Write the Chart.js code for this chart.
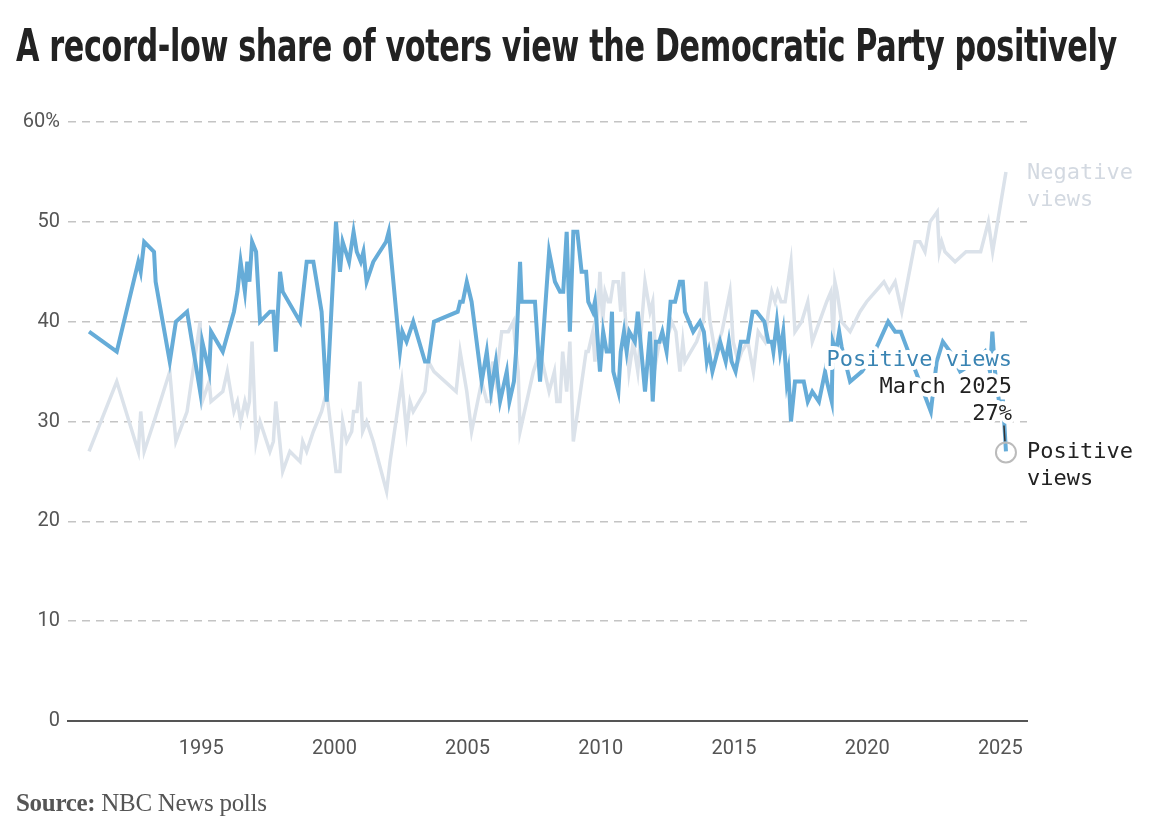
<!DOCTYPE html>
<html>
<head>
<meta charset="utf-8">
<script src="https://cdn.jsdelivr.net/npm/chart.js@4.4.1/dist/chart.umd.min.js"></script>
<style>
  html, body { margin: 0; padding: 0; background: #fff; }
  #wrap { position: relative; width: 1159px; height: 827px; overflow: hidden; }
  #title {
    position: absolute; left: 16px; top: 20px; white-space: nowrap;
    font-family: "DejaVu Sans Condensed", "Liberation Sans Narrow", sans-serif;
    font-weight: 700; font-size: 45px; line-height: 52px; color: #222;
    transform-origin: left top; letter-spacing: -0.5px;
  }
  #source {
    position: absolute; left: 16px; top: 789px; white-space: nowrap;
    font-family: "Liberation Serif", "DejaVu Serif", serif;
    font-size: 25px; color: #555; letter-spacing: -0.3px;
  }
  #source b { font-weight: 700; }
  canvas { position: absolute; left: 0; top: 0; }
</style>
</head>
<body>
<div id="wrap">
  <canvas id="myChart" width="1159" height="827"></canvas>
  <div id="title">A record-low share of voters view the Democratic Party positively</div>
  <div id="source"><b>Source:</b> NBC News polls</div>
</div>
<script>
// positive views (decimal year / percent)
var posDates = [1990.79, 1991.83, 1992.64, 1992.73, 1992.86, 1993.23, 1993.29, 1993.82, 1994.05, 1994.47,
  1994.96, 1995.04, 1995.30, 1995.37, 1995.81, 1996.02, 1996.23, 1996.36, 1996.48, 1996.64,
  1996.73, 1996.81, 1996.91, 1997.06, 1997.21, 1997.58, 1997.71, 1997.80, 1997.96, 1998.06,
  1998.71, 1998.96, 1999.21, 1999.52, 1999.71, 2000.06, 2000.21, 2000.31, 2000.55, 2000.72,
  2000.84, 2000.99, 2001.09, 2001.21, 2001.46, 2001.94, 2002.04, 2002.46, 2002.55, 2002.71,
  2002.96, 2003.40, 2003.53, 2003.74, 2004.63, 2004.72, 2004.82, 2004.97, 2005.15, 2005.53,
  2005.72, 2005.88, 2006.06, 2006.22, 2006.47, 2006.57, 2006.74, 2006.82, 2006.97, 2007.03,
  2007.53, 2007.72, 2008.06, 2008.28, 2008.47, 2008.59, 2008.72, 2008.84, 2008.97, 2009.12,
  2009.28, 2009.45, 2009.53, 2009.70, 2009.78, 2009.97, 2010.09, 2010.22, 2010.35, 2010.42,
  2010.47, 2010.66, 2010.75, 2010.87, 2010.97, 2011.07, 2011.28, 2011.39, 2011.66, 2011.85,
  2011.95, 2012.07, 2012.20, 2012.31, 2012.47, 2012.62, 2012.79, 2012.97, 2013.08, 2013.16,
  2013.47, 2013.72, 2013.87, 2013.98, 2014.06, 2014.19, 2014.48, 2014.69, 2014.81, 2014.91,
  2015.06, 2015.26, 2015.52, 2015.70, 2015.85, 2016.14, 2016.29, 2016.42, 2016.48, 2016.61,
  2016.73, 2016.85, 2016.98, 2017.04, 2017.14, 2017.29, 2017.62, 2017.77, 2017.94, 2018.19,
  2018.42, 2018.49, 2018.67, 2018.71, 2018.83, 2018.95, 2019.04, 2019.36, 2019.80, 2020.20,
  2020.79, 2021.05, 2021.26, 2022.39, 2022.61, 2022.84, 2023.11, 2023.49, 2024.05, 2024.42,
  2024.61, 2024.70, 2024.80, 2024.95, 2025.10, 2025.21];
var posValues = [39, 37, 46, 45, 48, 47, 44, 36, 40, 41,
  33, 38, 35, 39, 37, 39, 41, 43, 46, 43,
  46, 44, 48, 47, 40, 41, 41, 37, 45, 43,
  40, 46, 46, 41, 32, 50, 45, 48, 46, 49,
  47, 46, 47, 44, 46, 48, 49, 37, 39, 38,
  40, 36, 36, 40, 41, 42, 42, 44, 42, 34,
  37, 33, 36, 32, 35, 32, 34, 37, 46, 42,
  42, 34, 47, 44, 43, 43, 49, 39, 49, 49,
  45, 45, 42, 41, 42, 35, 39, 37, 37, 41,
  35, 33, 37, 39, 37, 39, 38, 41, 33, 39,
  32, 38, 38, 39, 37, 42, 42, 44, 44, 41,
  39, 40, 39, 36, 37, 35, 38, 36, 38, 36,
  35, 38, 38, 41, 41, 40, 38, 38, 37, 40,
  37, 39, 34, 35, 30, 34, 34, 32, 33, 32,
  35, 34, 32, 38, 37, 39, 37.5, 34, 35, 36.5,
  40, 39, 39, 31, 36, 38, 37, 35, 36, 37,
  35, 39, 35, 32, 32, 27];

// negative views
var negDates = [1990.79, 1991.83, 1992.64, 1992.73, 1992.86, 1993.23, 1993.82, 1994.05, 1994.47, 1994.96,
  1995.04, 1995.30, 1995.37, 1995.81, 1995.98, 1996.23, 1996.36, 1996.48, 1996.64, 1996.73,
  1996.81, 1996.91, 1997.06, 1997.21, 1997.58, 1997.71, 1997.80, 1998.06, 1998.33, 1998.71,
  1998.81, 1998.96, 1999.21, 1999.52, 1999.71, 2000.06, 2000.21, 2000.31, 2000.46, 2000.65,
  2000.72, 2000.85, 2000.96, 2001.06, 2001.21, 2001.46, 2001.96, 2002.09, 2002.53, 2002.71,
  2002.84, 2002.96, 2003.40, 2003.53, 2003.74, 2004.57, 2004.72, 2004.97, 2005.15, 2005.53,
  2005.72, 2005.88, 2005.94, 2006.06, 2006.28, 2006.53, 2006.72, 2006.78, 2006.90, 2006.97,
  2007.47, 2007.72, 2008.06, 2008.26, 2008.35, 2008.47, 2008.57, 2008.72, 2008.84, 2008.97,
  2009.45, 2009.53, 2009.70, 2009.78, 2009.97, 2010.07, 2010.16, 2010.28, 2010.36, 2010.47,
  2010.66, 2010.75, 2010.85, 2010.91, 2011.06, 2011.22, 2011.39, 2011.66, 2011.85, 2011.95,
  2012.07, 2012.20, 2012.47, 2012.66, 2012.82, 2012.97, 2013.08, 2013.16, 2013.60, 2013.85,
  2013.95, 2014.10, 2014.29, 2014.55, 2014.85, 2014.97, 2015.16, 2015.29, 2015.52, 2015.73,
  2015.91, 2016.16, 2016.29, 2016.42, 2016.54, 2016.64, 2016.77, 2016.92, 2017.14, 2017.29,
  2017.54, 2017.77, 2017.94, 2018.48, 2018.64, 2018.73, 2018.79, 2018.87, 2019.04, 2019.36,
  2019.73, 2019.98, 2020.63, 2020.83, 2021.05, 2021.30, 2021.80, 2021.98, 2022.17, 2022.36,
  2022.63, 2022.71, 2022.80, 2022.92, 2023.30, 2023.71, 2024.26, 2024.55, 2024.71, 2025.21];
var negValues = [27, 34, 27, 31, 27, 30, 35, 28, 31, 40,
  32, 34, 32, 33, 35, 31, 32, 30, 32, 31,
  32, 38, 28, 30, 27, 28, 32, 25, 27, 26,
  28, 27, 29, 31, 33, 25, 25, 30, 28, 29,
  31, 31, 34, 29, 30, 28, 23, 26, 34, 29,
  32, 31, 33, 36, 35, 33, 37, 33, 29, 34,
  32, 32, 36, 34, 39, 39, 40, 38, 35, 29,
  35, 37, 33, 35, 32, 32, 37, 33, 38, 28,
  37, 37, 39, 36, 45, 40, 43, 42, 42, 44,
  44, 41, 45, 41, 35, 38, 35, 44, 41, 42,
  36, 38, 38, 40, 39, 35, 38, 36, 38, 40,
  44, 40, 37, 39, 43, 38, 36, 37, 38, 35,
  39, 38, 41, 43, 42, 43, 42, 42, 46, 39,
  40, 42, 38, 42, 43, 38, 44, 43, 40, 39,
  41, 42, 44, 43, 44, 41, 48, 48, 47, 50,
  51, 47, 48, 47, 46, 47, 47, 50, 47, 55];

var yearTicks = [1995, 2000, 2005, 2010, 2015, 2020, 2025];

function toPoints(xs, ys) {
  return xs.map(function (x, i) { return { x: x, y: ys[i] }; });
}

// fit title to its width in the reference
var t = document.getElementById('title');
t.style.transform = 'scaleX(' + (1101 / t.offsetWidth) + ')';

var labelPlugin = {
  id: 'endLabels',
  afterDatasetsDraw: function (chart) {
    var ctx = chart.ctx;
    var xs = chart.scales.x, ys = chart.scales.y;
    var px = xs.getPixelForValue(posDates[posDates.length - 1]);
    var py = ys.getPixelForValue(posValues[posValues.length - 1]);
    var nx = xs.getPixelForValue(negDates[negDates.length - 1]);
    var ny = ys.getPixelForValue(negValues[negValues.length - 1]);
    ctx.save();
    ctx.font = '22px "DejaVu Sans Mono", "Liberation Mono", monospace';
    ctx.textBaseline = 'middle';
    ctx.lineJoin = 'round';

    // negative end label
    ctx.textAlign = 'left';
    ctx.fillStyle = '#d3d9e1';
    ctx.fillText('Negative', nx + 21, ny + 1);
    ctx.fillText('views', nx + 21, ny + 28);

    // series label + latest value, with white halo
    function halo(txt, x, y, color) {
      ctx.strokeStyle = '#fff';
      ctx.lineWidth = 8;
      ctx.strokeText(txt, x, y);
      ctx.fillStyle = color;
      ctx.fillText(txt, x, y);
    }
    ctx.textAlign = 'right';
    halo('Positive views', px + 6, py - 91, '#3a84b3');
    halo('March 2025', px + 6, py - 64, '#222');
    halo('27%', px + 6, py - 37, '#222');

    // leader + circle
    ctx.strokeStyle = '#333';
    ctx.lineWidth = 1.5;
    ctx.beginPath();
    ctx.moveTo(px - 2, py - 26);
    ctx.lineTo(px - 1, py - 10);
    ctx.stroke();
    ctx.strokeStyle = '#bbb';
    ctx.lineWidth = 2;
    ctx.beginPath();
    ctx.arc(px, py + 1, 10, 0, Math.PI * 2);
    ctx.stroke();

    ctx.textAlign = 'left';
    ctx.fillStyle = '#222';
    ctx.fillText('Positive', px + 21, py + 1);
    ctx.fillText('views', px + 21, py + 28);
    ctx.restore();
  }
};

var ctx = document.getElementById('myChart');
var myChart = new Chart(ctx, {
  type: 'line',
  data: {
    datasets: [
      {
        label: 'Positive views',
        data: toPoints(posDates, posValues),
        borderColor: '#66acd8',
        borderWidth: 4,
        pointRadius: 0,
        tension: 0,
        order: 0
      },
      {
        label: 'Negative views',
        data: toPoints(negDates, negValues),
        borderColor: '#dbe2ea',
        borderWidth: 3.5,
        pointRadius: 0,
        tension: 0,
        order: 1
      }
    ]
  },
  options: {
    responsive: false,
    animation: false,
    layout: { padding: { left: 0, right: 132, top: 122, bottom: 0 } },
    plugins: { legend: { display: false }, tooltip: { enabled: false } },
    scales: {
      x: {
        type: 'linear',
        min: 1990,
        max: 2026,
        afterBuildTicks: function (s) {
          s.ticks = yearTicks.map(function (v) { return { value: v }; });
        },
        afterFit: function (s) { s.height = 106; },
        grid: { display: false, drawTicks: false },
        border: { display: true, color: '#555', width: 2 },
        ticks: {
          padding: 16,
          color: '#555',
          font: { family: 'Roboto', size: 20 },
          maxRotation: 0,
          callback: function (v) { return String(v); }
        }
      },
      y: {
        min: 0,
        max: 60,
        afterFit: function (s) { s.width = 68; },
        grid: {
          drawTicks: false,
          lineWidth: 1.5,
          color: function (c) { return c.tick && c.tick.value === 0 ? 'rgba(0,0,0,0)' : '#c4c4c4'; }
        },
        border: { display: false, dash: [8, 6] },
        ticks: {
          stepSize: 10,
          padding: 8,
          color: '#555',
          font: { family: 'Roboto', size: 20 },
          callback: function (v) { return v === 60 ? '60%' : v; }
        }
      }
    }
  },
  plugins: [labelPlugin]
});
</script>
</body>
</html>
